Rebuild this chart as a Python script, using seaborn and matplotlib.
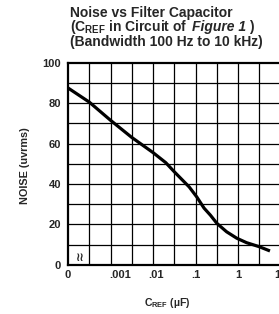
import matplotlib
matplotlib.use("Agg")
import matplotlib.pyplot as plt
import matplotlib.transforms as mtransforms
import seaborn as sns
import numpy as np

# data: C_REF in log10(uF) units (-4 stands for the broken "0" end), noise in uVrms
log_cref = [-4.0, -3.5, -3.0, -2.5, -2.0, -1.7, -1.5, -1.15, -0.97, -0.8,
            -0.65, -0.5, -0.27, -0.03, 0.2, 0.5, 0.75]
noise_uv = [87.5, 80.5, 71.5, 63.0, 55.5, 50.5, 46.0, 38.5, 33.5, 28.0,
            24.5, 20.5, 16.3, 13.1, 10.9, 8.9, 6.8]

x_ticks = [-4, -3, -2, -1, 0, 1]
x_labels = ["0", ".001", ".01", ".1", "1", "10"]
x_label_shift = [0, 10, 3, 0, 0, 0]  # pixels, as printed on the sheet
y_ticks = [0, 20, 40, 60, 80, 100]

sns.set_theme(style="white")
plt.rcParams["font.family"] = ["Liberation Sans", "DejaVu Sans"]
plt.rcParams["mathtext.fontset"] = "custom"
plt.rcParams["mathtext.rm"] = "Liberation Sans:bold"
plt.rcParams["mathtext.bf"] = "Liberation Sans:bold"

W, H = 279, 314
fig = plt.figure(figsize=(W / 100, H / 100), dpi=100)
fig.patch.set_facecolor("white")

left, right, top, bottom = 68, 280.6, 62.7, 264.7
ax = fig.add_axes([left / W, 1 - bottom / H, (right - left) / W, (bottom - top) / H])

sns.lineplot(x=log_cref, y=noise_uv, ax=ax, color="black", linewidth=2.3,
             solid_capstyle="butt")

ax.set_xlim(-4, 1)
ax.set_ylim(0, 100)

# grid: half decades vertically, every 10 horizontally
for gx in np.arange(-3.5, 1.0, 0.5):
    ax.axvline(gx, color="black", linewidth=0.9, zorder=1)
for gy in range(10, 100, 10):
    ax.axhline(gy, color="black", linewidth=0.9, zorder=1)

ax.set_xticks(x_ticks)
ax.set_xticklabels(x_labels, fontweight="bold", fontsize=8)
ax.set_yticks(y_ticks)
ax.set_yticklabels([str(v) for v in y_ticks], fontweight="bold", fontsize=8)
ax.tick_params(axis="both", length=0)
ax.tick_params(axis="x", pad=4)
ax.tick_params(axis="y", pad=5)
for lab, dx in zip(ax.get_xticklabels(), x_label_shift):
    lab.set_transform(lab.get_transform() +
                      mtransforms.ScaledTranslation(dx / 100, 0, fig.dpi_scale_trans))

for side in ["left", "bottom", "top", "right"]:
    ax.spines[side].set_color("black")
    ax.spines[side].set_linewidth(1.6)

# axis break mark near the origin
ax.text(-3.7, 0.5, "≀≀", fontsize=8.5, ha="center", va="bottom",
        fontweight="bold", family=["DejaVu Sans"])

ax.set_ylabel("NOISE (uvrms)", fontsize=7.8, fontweight="bold")
ax.yaxis.label.set_va("center")
ax.yaxis.set_label_coords(-0.202, 0.489)
ax.set_xlabel(r"C$_{\mathbf{REF}}$ (µF)", fontsize=7.6, fontweight="bold")
ax.xaxis.label.set_va("center")
ax.xaxis.set_label_coords(0.465, -0.192)

# three-line title, left aligned
tx = 70 / W
fs = 10.0
fig.text(tx, 1 - 17 / H, "Noise vs Filter Capacitor", fontsize=fs,
         fontweight="bold", va="baseline", ha="left")
yb = 1 - 31.5 / H
t1 = fig.text(tx, yb, r"(C$_{\mathbf{REF}}$ in Circuit of", fontsize=fs,
              fontweight="bold", va="baseline", ha="left")
fig.canvas.draw()
x1 = t1.get_window_extent().x1
t2 = fig.text((x1 + 4) / W, yb, "Figure 1", fontsize=fs, fontweight="bold",
              fontstyle="italic", va="baseline", ha="left")
fig.canvas.draw()
x2 = t2.get_window_extent().x1
fig.text((x2 + 3) / W, yb, ")", fontsize=fs, fontweight="bold",
         va="baseline", ha="left")
fig.text(tx, 1 - 46 / H, "(Bandwidth 100 Hz to 10 kHz)", fontsize=fs,
         fontweight="bold", va="baseline", ha="left")

fig.savefig("out.png", dpi=100, facecolor="white")
